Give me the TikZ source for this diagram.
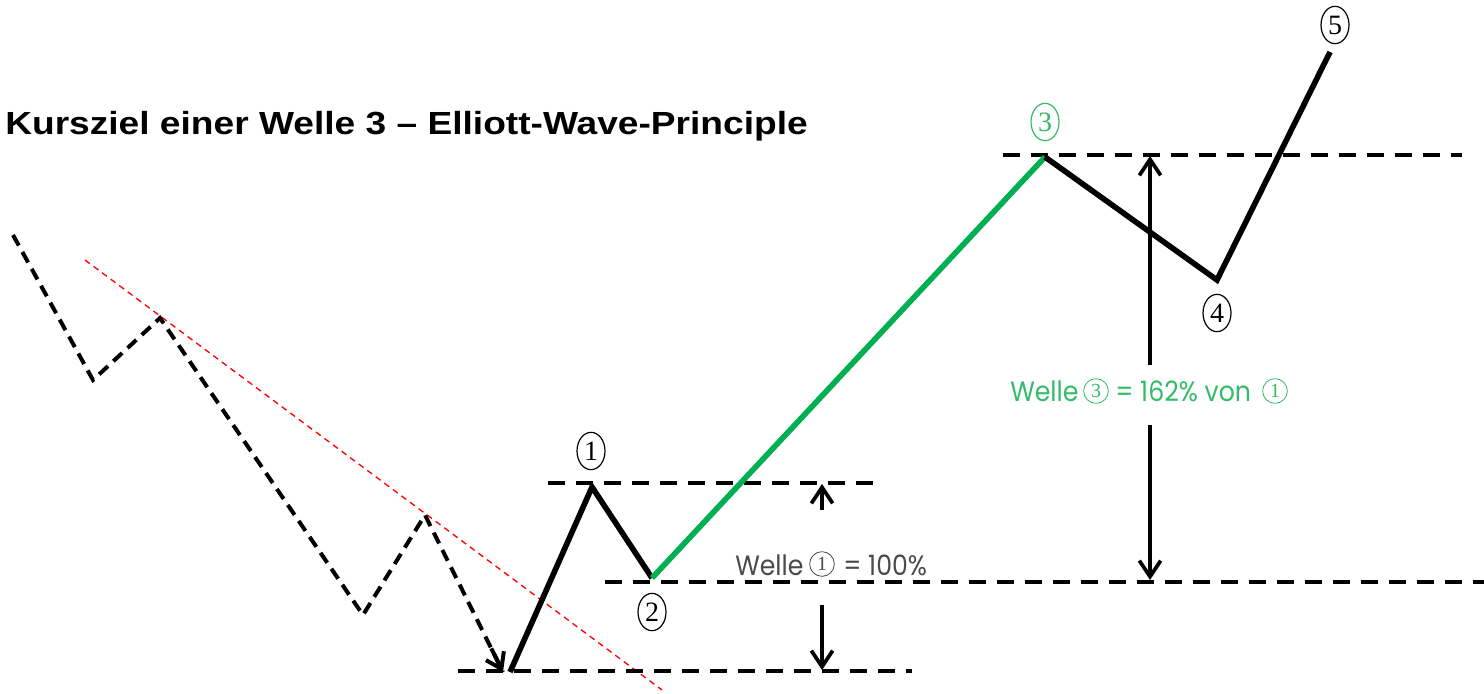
\documentclass[tikz,border=0pt]{standalone}
\usepackage{fontspec}
\setmainfont{Liberation Serif}
\newfontfamily\titlefont{Liberation Sans}
\newfontfamily\lightfont{Poppins}
\usetikzlibrary{arrows.meta,shapes.geometric,calc}
\definecolor{wgreen}{HTML}{00B050}
\definecolor{tgreen}{HTML}{33BB66}
\definecolor{tgray}{HTML}{4A4A4A}
\tikzset{
  wave/.style={line width=4.2pt, line join=miter, line cap=butt},
  prewave/.style={line width=3pt, dash pattern=on 9pt off 5.5pt},
  level/.style={line width=3.2pt, dash pattern=on 13pt off 8pt},
  trend/.style={red, line width=1pt, dash pattern=on 4.5pt off 3.5pt},
  meas/.style={line width=2.8pt, -{Straight Barb[length=12pt,width=16pt,line width=2.8pt]}},
  wnum/.style={ellipse, draw, line width=0.9pt, minimum width=21pt, minimum height=28pt, inner sep=0pt, font=\fontsize{21}{21}\selectfont},
  lbl/.style={font=\lightfont\fontsize{21}{24}\selectfont, inner sep=0pt, xscale=0.9, anchor=base west},
  cnum/.style={circle, draw, line width=0.6pt, inner sep=0pt, minimum size=18.5pt, font=\rmfamily\fontsize{15}{15}\selectfont}
}
\begin{document}
\begin{tikzpicture}[x=0.75pt,y=-0.75pt]
\useasboundingbox (0,0) rectangle (1484,693);
% points
\coordinate (p0) at (13,235);
\coordinate (p1) at (93,380);
\coordinate (p2) at (160,318);
\coordinate (p3) at (363,615);
\coordinate (p4) at (425,515);
\coordinate (p5) at (503,672);
\coordinate (w0) at (510,672);
\coordinate (w1) at (592,487);
\coordinate (w2) at (652,578);
\coordinate (w3) at (1045,157);
\coordinate (w4) at (1217,280);
\coordinate (w5) at (1330,52);
% title
\node[anchor=base west, font=\titlefont\bfseries\fontsize{24}{28}\selectfont, inner sep=0pt, xscale=1.16] (title) at (5,134) {Kursziel einer Welle 3 – Elliott-Wave-Principle};
% red trend line
\coordinate (r0) at (85,260);
\coordinate (r1) at (662,690);
\draw[trend] (r0) -- (r1);
% level lines
\coordinate (la) at (548,483); \coordinate (lb) at (882,483);
\coordinate (lc) at (605,582); \coordinate (ld) at (1484,582);
\coordinate (le) at (458,671); \coordinate (lf) at (912,671);
\coordinate (lg) at (1003,155); \coordinate (lh) at (1462,155);
\draw[level] (la) -- (lb);
\draw[level] (lc) -- (ld);
\draw[level] (le) -- (lf);
\draw[level] (lg) -- (lh);
% pre-wave
\draw[prewave] (p0) -- (p1) -- (p2) -- (p3) -- (p4) -- (p5);
\coordinate (ps) at ($(p4)!0.85!(p5)$);
\draw[line width=3pt, -{Straight Barb[length=11pt,width=15pt,line width=3pt]}] (ps) -- (p5);
% wave
\draw[wave] (w0) -- (w1) -- (w2);
\draw[wave, wgreen] (w2) -- (w3);
\draw[wave] (w3) -- (w4) -- (w5);
% measurement arrows
\coordinate (a1s) at (822,510); \coordinate (a1e) at (822,484);
\coordinate (a2s) at (822,605); \coordinate (a2e) at (822,670);
\coordinate (a3s) at (1150,365); \coordinate (a3e) at (1150,156);
\coordinate (a4s) at (1150,425); \coordinate (a4e) at (1150,580);
\draw[meas] (a1s) -- (a1e);
\draw[meas] (a2s) -- (a2e);
\draw[meas] (a3s) -- (a3e);
\draw[meas] (a4s) -- (a4e);
% wave numbers
\node[wnum] (n1) at (591,451) {1};
\node[wnum] (n2) at (652,612) {2};
\node[wnum, tgreen] (n3) at (1045,122) {3};
\node[wnum] (n4) at (1217,313) {4};
\node[wnum] (n5) at (1335,25) {5};
% label: Welle 1 = 100%
\node[lbl, text=tgray] (l1a) at (735,575) {Welle};
\node[cnum, tgray] (l1b) at (822,564) {1};
\node[lbl, text=tgray] (l1c) at (843,575) {= 100\%};
% label: Welle 3 = 162% von 1
\node[lbl, text=tgreen] (l2a) at (1010,401) {Welle};
\node[cnum, tgreen] (l2b) at (1096,391) {3};
\node[lbl, text=tgreen] (l2c) at (1115,401) {= 162\% von};
\node[cnum, tgreen] (l2d) at (1275,391) {1};
\end{tikzpicture}
\end{document}
